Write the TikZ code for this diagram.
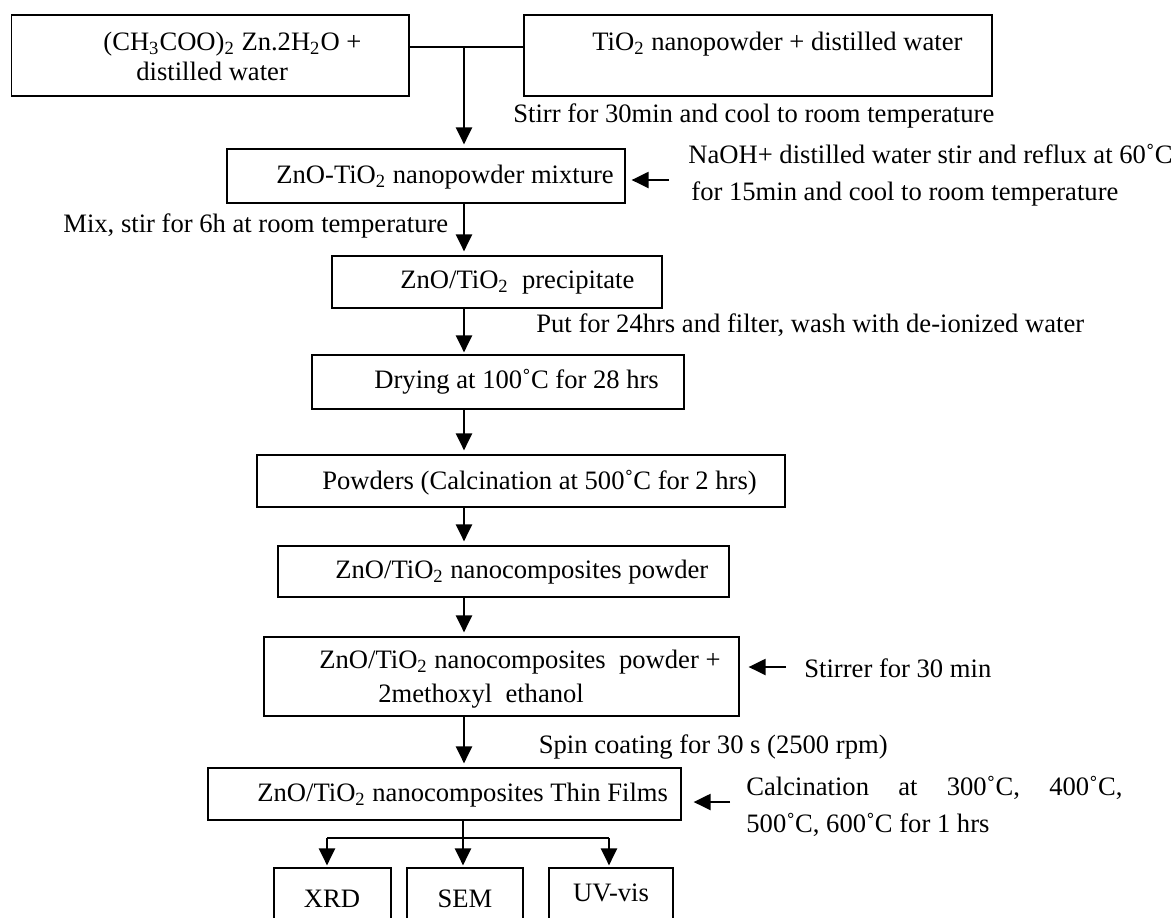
\documentclass[tikz,border=0pt]{standalone}
\usepackage{fontspec}
\setmainfont{Liberation Serif}
\usetikzlibrary{arrows.meta,fit}
\newcommand{\sbs}[1]{\textsubscript{#1}}
\begin{document}
\begin{tikzpicture}[x=0.5pt,y=-0.5pt,
  box/.style={draw, line width=0.6pt, inner sep=0pt},
  tx/.style={inner sep=0pt, anchor=base west, font=\fontsize{13.3}{16}\selectfont},
  txc/.style={tx, anchor=base},
  txe/.style={tx, anchor=base east},
  conn/.style={line width=0.6pt},
  trunk/.style={line width=1.1pt},
  arr/.style={line width=1.1pt, -{Triangle[length=8.5pt,width=8pt]}},
]
\useasboundingbox (0,0) rectangle (1172,917);
\clip (0,0) rectangle (1172,917);

% boxes
\node[box, fit={(11.5,15) (409,96)}] (b1) {};
\node[box, fit={(524,15) (992,96)}] (b2) {};
\node[box, fit={(227,149) (625,203)}] (b3) {};
\node[box, fit={(332,256) (662,308)}] (b4) {};
\node[box, fit={(312,355) (684,409)}] (b5) {};
\node[box, fit={(257,455) (785,507)}] (b6) {};
\node[box, fit={(278,546) (729,597)}] (b7) {};
\node[box, fit={(264,637) (739,716)}] (b8) {};
\node[box, fit={(208,768) (681,820)}] (b9) {};
\node[box, fit={(274,868) (391,935)}] (bx) {};
\node[box, fit={(407,868) (523,935)}] (bs) {};
\node[box, fit={(549,868) (673,935)}] (bu) {};

% texts
\node[tx] (t1a) at (103,50) {(CH\sbs{3}COO)\sbs{2} Zn.2H\sbs{2}O +};
\node[tx] (t1b) at (136,80) {distilled water};
\node[tx] (t2) at (592,50) {TiO\sbs{2} nanopowder + distilled water};
\node[tx] (l1) at (513,122) {Stirr for 30min and cool to room temperature};
\node[tx] (t3) at (276,183) {ZnO-TiO\sbs{2} nanopowder mixture};
\node[tx] (n1) at (688,163) {NaOH+ distilled water stir and reflux at 60˚C};
\node[tx] (n2) at (691,200) {for 15min and cool to room temperature};
\node[tx] (mix) at (63,232) {Mix, stir for 6h at room temperature};
\node[tx] (t4) at (400,288) {ZnO/TiO\sbs{2}\ \ precipitate};
\node[tx] (put) at (536,332) {Put for 24hrs and filter, wash with de-ionized water};
\node[tx] (t5) at (374,388) {Drying at 100˚C for 28 hrs};
\node[tx] (t6) at (322,489) {Powders (Calcination at 500˚C for 2 hrs)};
\node[tx] (t7) at (335,578) {ZnO/TiO\sbs{2} nanocomposites powder};
\node[tx] (t8a) at (319,668) {ZnO/TiO\sbs{2} nanocomposites\ \ powder +};
\node[tx] (t8b) at (378,702) {2methoxyl\ \ ethanol};
\node[tx] (stir) at (804,677) {Stirrer for 30 min};
\node[txe] (spin) at (888,753) {Spin coating for 30 s (2500 rpm)};
\node[tx] (t9) at (257,801) {ZnO/TiO\sbs{2} nanocomposites Thin Films};
\node[tx] (c1) at (746,795) {\makebox[188pt][s]{Calcination at 300˚C, 400˚C,}};
\node[tx] (c2) at (746,832) {500˚C, 600˚C for 1 hrs};
\node[txc] (xrd) at (332,907) {XRD};
\node[txc] (sem) at (465,907) {SEM};
\node[txc] (uv) at (611,901) {UV-vis};

% connectors
\coordinate (j) at (464,47);
\draw[conn] (b1.east |- j) -- (b2.west |- j);
\draw[arr, shorten >=2pt] (j) -- (j |- b3.north);
\draw[arr, shorten >=2pt] (b3.south -| j) -- (b4.north -| j);
\draw[arr, shorten >=1pt] (b4.south -| j) -- (b5.north -| j);
\draw[arr, shorten >=2pt] (b5.south -| j) -- (b6.north -| j);
\draw[arr, shorten >=2pt] (b6.south -| j) -- (b7.north -| j);
\draw[arr, shorten >=2pt] (b7.south -| j) -- (b8.north -| j);
\draw[arr, shorten >=2pt] (b8.south -| j) -- (b9.north -| j);

\coordinate (a3) at (669,180);
\draw[arr, shorten >=3pt] (a3) -- (a3 -| b3.east);
\coordinate (a8) at (786,667);
\draw[arr, shorten >=4.5pt] (a8) -- (a8 -| b8.east);
\coordinate (a9) at (730,802);
\draw[arr, shorten >=6pt] (a9) -- (a9 -| b9.east);

\coordinate (bm) at (463,838);
\coordinate (bl) at (327,838);
\coordinate (br) at (609,838);
\draw[trunk] (b9.south -| bm) -- (bm);
\draw[trunk] (bl) -- (br);
\draw[arr, shorten >=1pt] (bl) -- (bl |- bx.north);
\draw[arr, shorten >=1pt] (bm) -- (bm |- bs.north);
\draw[arr, shorten >=1pt] (br) -- (br |- bu.north);
\end{tikzpicture}
\end{document}
